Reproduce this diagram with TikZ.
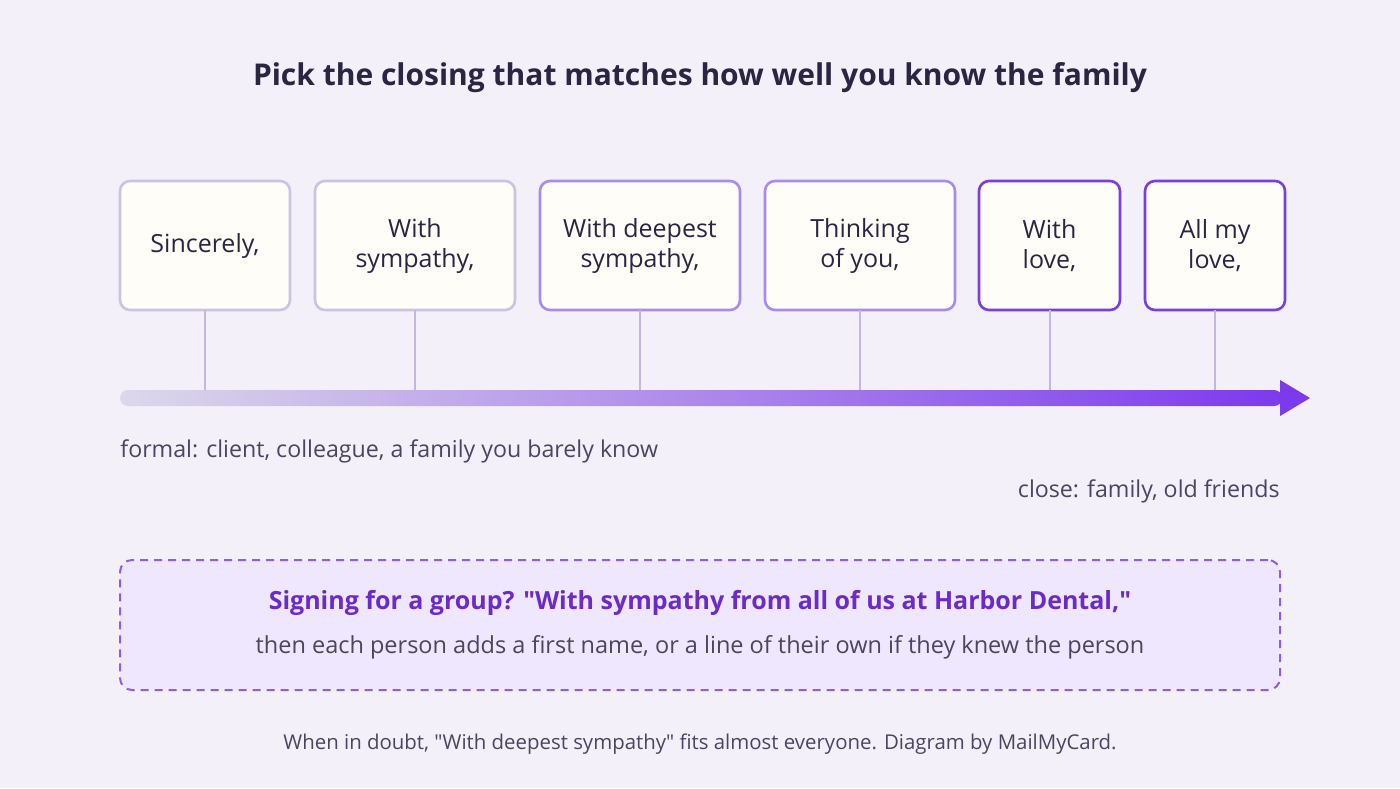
\documentclass[tikz,border=0pt]{standalone}
\usepackage{fontspec}
\setmainfont{Open Sans}
\definecolor{bg}{HTML}{F3F0FA}
\definecolor{ink}{HTML}{2A2540}
\definecolor{gray1}{HTML}{4A4560}
\definecolor{b1}{HTML}{CBC3E0}
\definecolor{b2}{HTML}{A98BEB}
\definecolor{b3}{HTML}{7B3FE0}
\definecolor{stem}{HTML}{C4B5E6}
\definecolor{boxfill}{HTML}{FFFDF8}
\definecolor{grpfill}{HTML}{EFE7FD}
\definecolor{grptxt}{HTML}{6A2BC8}
\definecolor{arr}{HTML}{7C3AED}
\definecolor{arrL}{HTML}{DCD8EA}
\begin{document}
\begin{tikzpicture}[x=0.5pt,y=-0.5pt,
 card/.style={draw=#1,line width=1.3pt,fill=boxfill,rounded corners=5pt,align=center,font=\fontsize{12.5}{15}\selectfont,text=ink,inner sep=0pt},
 stemline/.style={draw=stem,line width=1pt},
 txt/.style={font=\fontsize{11.6}{13}\selectfont,text=gray1,inner sep=0pt}]
\fill[bg] (0,0) rectangle (1400,788);
\useasboundingbox (0,0) rectangle (1400,788);
\node[font=\bfseries\fontsize{15}{17}\selectfont,text=ink] (title) at (700,78) {Pick the closing that matches how well you know the family};
\shade[left color=arrL,right color=arr,rounded corners=4pt] (120,390) rectangle (1282,406);
\fill[arr] (1280,380) -- (1310,398) -- (1280,416) -- cycle;
\foreach \n/\xa/\xb/\c/\t in {s1/120/290/b1/{Sincerely,},s2/315/515/b1/{With\\sympathy,},s3/540/740/b2/{With deepest\\sympathy,},s4/765/955/b2/{Thinking\\of you,},s5/979/1120/b3/{With\\love,},s6/1145/1285/b3/{All my\\love,}}{
 \node[card=\c,minimum width={(\xb-\xa)*0.5pt},minimum height=64.5pt] (\n) at ({(\xa+\xb)/2},245.5) {\t};
}
\foreach \n/\x in {s1/205,s2/415,s3/640,s4/860,s5/1050,s6/1215}{
 \coordinate (t\n) at (\x,390);
 \draw[stemline] (\x,309.5) -- (t\n);
}
\node[txt,anchor=west] (formal) at (120,451) {formal: client, colleague, a family you barely know};
\node[txt,anchor=east] (close) at (1280,491) {close: family, old friends};
\node[draw=b3!85,dashed,dash pattern=on 4pt off 3pt,line width=1pt,fill=grpfill,rounded corners=6pt,minimum width=580pt,minimum height=65pt] (grp) at (700,625) {};
\node[font=\bfseries\fontsize{12.5}{14}\selectfont,text=grptxt] (g1) at (700,603) {Signing for a group? \textquotedbl With sympathy from all of us at Harbor Dental,\textquotedbl};
\node[txt,font=\fontsize{11.75}{14}\selectfont] (g2) at (700,647) {then each person adds a first name, or a line of their own if they knew the person};
\node[txt,font=\fontsize{10.2}{12}\selectfont] (foot) at (700,744) {When in doubt, \textquotedbl With deepest sympathy\textquotedbl\ fits almost everyone. Diagram by MailMyCard.};
\end{tikzpicture}
\end{document}
